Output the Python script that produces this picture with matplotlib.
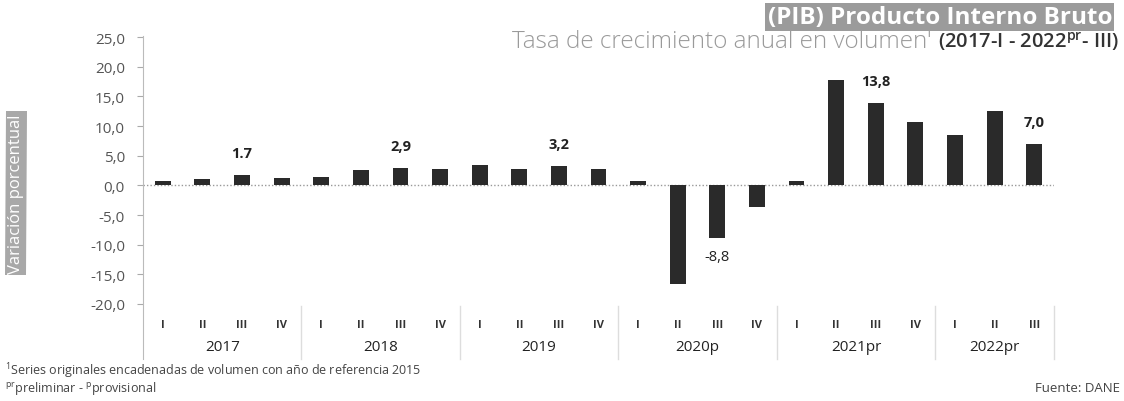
import matplotlib.pyplot as plt
from matplotlib.ticker import FuncFormatter

plt.rcParams['font.family'] = ['Open Sans', 'DejaVu Sans']
plt.rcParams['mathtext.default'] = 'regular'

# datos: tasa de crecimiento anual del PIB (%)
trimestres = ["I", "II", "III", "IV"] * 5 + ["I", "II", "III"]
anios = ["2017", "2018", "2019", "2020p", "2021pr", "2022pr"]
trimestres_por_anio = [4, 4, 4, 4, 4, 3]
crecimiento = [0.8, 1.1, 1.7, 1.3,
               1.4, 2.6, 2.9, 2.7,
               3.4, 2.8, 3.2, 2.8,
               0.7, -16.7, -8.8, -3.7,
               0.8, 17.8, 13.8, 10.6,
               8.4, 12.6, 7.0]
etiquetas = {2: "1.7", 6: "2,9", 10: "3,2", 14: "-8,8", 18: "13,8", 22: "7,0"}

fig = plt.figure(figsize=(11.24, 4.02), dpi=100)
ax = fig.add_axes([143/1124, 1-360/402, 911/1124, 323/402])

x = list(range(len(crecimiento)))
ax.bar(x, crecimiento, width=0.4, color="#2a2a2a", zorder=3)

ax.set_xlim(-0.5, len(x) - 0.5)
ax.set_ylim(-29.27, 25.17)

# linea del cero punteada
ax.axhline(0, color="#999999", lw=1, ls=(0, (1, 1.5)), zorder=2)

ax.set_yticks(range(-20, 26, 5))
ax.yaxis.set_major_formatter(FuncFormatter(lambda v, p: ("%.1f" % v).replace(".", ",")))
ax.tick_params(axis="y", length=4, color="#aaaaaa", pad=9, labelsize=11, labelcolor="#555555")
ax.set_xticks([])
for s in ["top", "right", "bottom"]:
    ax.spines[s].set_visible(False)
ax.spines["left"].set_color("#bbbbbb")

# etiquetas de valores
for i, txt in etiquetas.items():
    v = crecimiento[i]
    if v >= 0:
        ax.annotate(txt, (i, v), xytext=(0, 11), textcoords="offset points",
                    ha="center", va="bottom", fontsize=10.5, fontweight="bold", color="#222222")
    else:
        ax.annotate(txt, (i, v), xytext=(0, -8), textcoords="offset points",
                    ha="center", va="top", fontsize=10.5, color="#222222")

# trimestres y anios bajo el grafico
for i, t in enumerate(trimestres):
    ax.text(i, -23.5, t, ha="center", va="center", fontsize=8, fontweight="bold", color="#333333")
inicio = 0
for anio, n in zip(anios, trimestres_por_anio):
    ax.text(inicio + (n - 1) / 2, -27.2, anio, ha="center", va="center", fontsize=11, color="#222222")
    fin = inicio + n - 0.5
    ax.plot([fin, fin], [-20.3, -29.27], color="#dddddd", lw=1, clip_on=False)
    inicio += n

# titulo
fig.text(1112/1124, 1-18/402, "(PIB) Producto Interno Bruto", ha="right", va="center",
         fontsize=17.5, fontweight="bold", color="white",
         bbox=dict(boxstyle="square,pad=0.1", fc="#9b9b9b", ec="none"))
t1 = fig.text(1119/1124, 1-42/402, "(2017-I - 2022$^{pr}$- III)", ha="right", va="center",
              fontsize=14.5, color="#333333", fontweight="semibold")
ax.annotate("Tasa de crecimiento anual en volumen' ", xy=(0, 0.5), xycoords=t1,
            ha="right", va="center", fontsize=17.5, fontweight="light", color="#9a9a9a",
            annotation_clip=False)

# eje y
fig.text(16/1124, 1-194/402, "Variación porcentual", rotation=90, ha="center", va="center",
         fontsize=12, color="white", bbox=dict(boxstyle="square,pad=0.15", fc="#a8a8a8", ec="none"))

# notas
fig.text(5/1124, 1-371/402, "$^{1}$Series originales encadenadas de volumen con año de referencia 2015",
         ha="left", va="center", fontsize=9, color="#444444")
fig.text(5/1124, 1-389/402, "$^{pr}$preliminar - $^{p}$provisional",
         ha="left", va="center", fontsize=9, color="#444444")
fig.text(1120/1124, 1-389/402, "Fuente: DANE", ha="right", va="center", fontsize=9.5, color="#444444")

fig.savefig("out.png", dpi=100)
